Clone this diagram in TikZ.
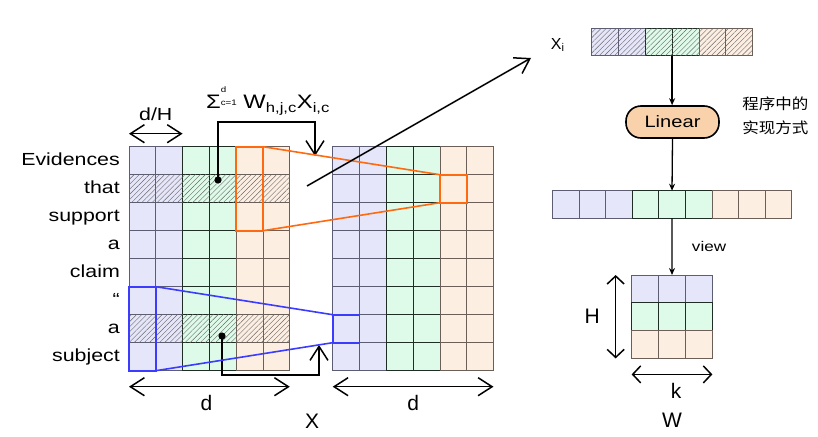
\documentclass[tikz,border=0pt]{standalone}
\usepackage{fontspec}
\setmainfont{Liberation Sans}
\newfontfamily\widefont[FakeStretch=1.22]{Liberation Sans}
\newfontfamily\cjk[FakeStretch=1.1]{Noto Sans CJK SC}
\usetikzlibrary{positioning, arrows.meta, patterns.meta}
\definecolor{lav}{HTML}{E6E6FA}
\definecolor{lavB}{HTML}{5C5C72}
\definecolor{mint}{HTML}{DDFBE8}
\definecolor{mintB}{HTML}{1E2E24}
\definecolor{peach}{HTML}{FDEEE2}
\definecolor{peachB}{HTML}{6B5F58}
\definecolor{pill}{HTML}{F9D2AC}
\definecolor{hiO}{HTML}{FF6A10}
\definecolor{hiB}{HTML}{3C3CFF}
\tikzset{
  barb/.tip={Straight Barb[length=14pt,width=18pt]},
  flat/.tip={Straight Barb[length=8pt,width=17pt]},
  dn/.tip={Stealth[length=7pt,width=6pt]},
  cell/.style={draw=#1B, fill=#1, minimum width=26.8pt, minimum height=28pt, inner sep=0pt, outer sep=0pt, line width=0.8pt},
  hatch/.style={pattern={Lines[angle=45,distance=3.6pt,line width=0.4pt]}, pattern color=black!60},
  word/.style={font=\widefont\fontsize{17.5}{20}\selectfont, inner sep=0pt, text height=12.5pt, text depth=3.5pt},
  lbl/.style={font=\fontsize{21}{24}\selectfont, inner sep=0pt},
  op/.style={draw, line width=1.6pt, fill=pill, rounded corners=15pt, minimum width=93pt, minimum height=32pt, font=\widefont\fontsize{16.5}{19}\selectfont},
  dim/.style={line width=1.5pt},
  hi/.style={line width=1.6pt},
}

\begin{document}
\begin{tikzpicture}[x=1pt, y=-1pt]
  \useasboundingbox (0,0) rectangle (818,436);
  % left matrix and right matrix
  \foreach \r in {0,...,7}
    \foreach \c/\col in {0/lav,1/lav,2/mint,3/mint,4/peach,5/peach} {
      \node[cell=\col] (L-\r-\c) at ({142.4+26.8*\c},{160.7+28*\r}) {};
      \node[cell=\col] (R-\r-\c) at ({346.1+26.8*\c},{160.7+28*\r}) {};
    }
  \foreach \r in {1,6}
    \fill[hatch] (L-\r-0.north west) rectangle (L-\r-5.south east);
  % tokens
  \foreach \w [count=\r from 0] in {Evidences,that,support,a,claim,“,a,subject}
    \node[word, left=9pt of L-\r-0] (w\r) {\w};
  % sum
  \node[font=\widefont\fontsize{19.5}{22}\selectfont] (sum) at (268,101)
    {Σ\raisebox{3.5pt}{\fontsize{8}{9}\selectfont\shortstack[l]{d\\[4pt]c=1}}\ W\textsubscript{h,j,c}X\textsubscript{i,c}};
  \coordinate (dotA) at (218,180);
  \coordinate (kneeA) at (315,122);
  \coordinate (tgtA) at (315,156);
  \coordinate (dotB) at (222,336);
  \coordinate (kneeB) at (319,375);
  \coordinate (tgtB) at (319,345);
  \fill (dotA) circle (3.6pt);
  \fill (dotB) circle (3.6pt);
  \draw[dim, -{barb}] (dotA) |- (kneeA) -- (tgtA);
  \draw[dim, -{barb}] (dotB) |- (kneeB) -- (tgtB);
  % highlights
  \draw[hi, hiO] (L-0-4.north west) rectangle (L-2-4.south east);
  \draw[hi, hiO] (L-0-4.north east) -- (R-1-4.north west);
  \draw[hi, hiO] (L-2-4.south east) -- (R-1-4.south west);
  \draw[hi, hiO] (R-1-4.north west) rectangle (R-1-4.south east);
  \draw[hi, hiB] (L-5-0.north west) rectangle (L-7-0.south east);
  \draw[hi, hiB] (L-5-0.north east) -- (R-6-0.north west);
  \draw[hi, hiB] (L-7-0.south east) -- (R-6-0.south west);
  \draw[hi, hiB] (R-6-0.north west) rectangle (R-6-0.south east);
  % dimensions
  \draw[dim, {barb}-{barb}] ([yshift=13pt]L-0-0.north west) -- ([yshift=13pt]L-0-1.north east)
    node[midway, above=9pt, word] (dh) {d/H};
  \draw[dim, {barb}-{barb}] ([yshift=-16pt]L-7-0.south west) -- ([yshift=-16pt]L-7-5.south east)
    node[midway, below=8pt, lbl, xshift=-3pt] (dl) {d};
  \draw[dim, {barb}-{barb}] ([yshift=-16pt]R-7-0.south west) -- ([yshift=-16pt]R-7-5.south east)
    node[midway, below=8pt, lbl] (dr) {d};
  \node[lbl] (xx) at (312,421) {X};
  % long arrow
  \coordinate (aS) at (307,186);
  \coordinate (aE) at (531,58);
  \draw[dim, -{barb}] (aS) -- (aE);
  % right: Xi -> Linear -> view
  \foreach \c/\col in {0/lav,1/lav,2/mint,3/mint,4/peach,5/peach} {
    \node[cell=\col, minimum height=27.4pt] (X-\c) at ({605.1+26.8*\c},42) {};
    \fill[hatch] (X-\c.north west) rectangle (X-\c.south east);
  }
  \node[font=\fontsize{16}{18}\selectfont, inner sep=0pt, left=27pt of X-0, yshift=-3pt] (xi) {X\textsubscript{i}};
  \node[op] (lin) at (672.5,122) {Linear};
  \node[font=\cjk\fontsize{15}{24}\selectfont, align=left, right=19pt of lin, yshift=6pt] (impl) {程序中的\\实现方式};
  \foreach \c/\col in {0/lav,1/lav,2/lav,3/mint,4/mint,5/mint,6/peach,7/peach,8/peach}
    \node[cell=\col, minimum width=26.6pt, minimum height=27.6pt] (V-\c) at ({565.6+26.6*\c},204.5) {};
  \foreach \r/\col in {0/lav,1/mint,2/peach}
    \foreach \c in {0,1,2}
      \node[cell=\col, minimum width=26.9pt, minimum height=27.8pt] (M-\r-\c) at ({645.1+26.9*\c},{288.9+27.8*\r}) {};
  \draw[line width=1.3pt, -{dn}] (X-2.south east) -- (X-2.south east |- lin.north);
  \draw[line width=1.3pt, -{dn}] (lin.south) -- (V-4.north);
  \draw[line width=1.3pt, -{dn}] (V-4.south) -- (M-0-1.north)
    node[midway, right=16pt, font=\widefont\fontsize{14}{16}\selectfont] (vw) {view};
  \draw[dim, {flat}-{flat}] ([xshift=-16pt]M-0-0.north west) -- ([xshift=-16pt]M-2-0.south west)
    node[midway, left=15pt, lbl] (hh) {H};
  \draw[dim, {flat}-{flat}] ([yshift=-16pt]M-2-0.south west) -- ([yshift=-16pt]M-2-2.south east)
    node[midway, below=8pt, lbl, xshift=4pt] (kk) {k};
  \node[lbl, below=14pt of kk, xshift=-4pt] (ww) {W};
\end{tikzpicture}
\end{document}
